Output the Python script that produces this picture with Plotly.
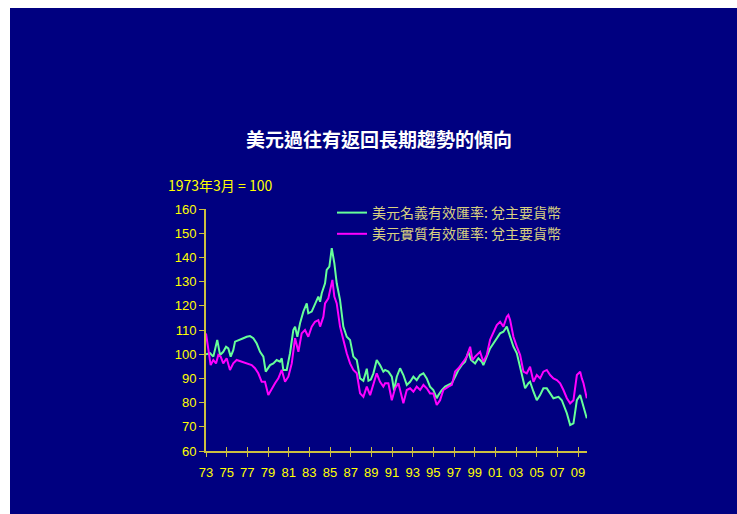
import plotly.graph_objects as go

# ---- data ----
nominal_years = [1973.00, 1973.39, 1973.71, 1973.87, 1974.09, 1974.36, 1974.67, 1974.94, 1975.16, 1975.39,
                 1975.64, 1975.81, 1976.29, 1976.61, 1976.94, 1977.26, 1977.58, 1977.91, 1978.23, 1978.55,
                 1978.78, 1979.20, 1979.52, 1979.84, 1980.16, 1980.33, 1980.48, 1980.81, 1981.13, 1981.45,
                 1981.62, 1981.84, 1982.10, 1982.42, 1982.75, 1982.90, 1983.23, 1983.55, 1983.87, 1984.04,
                 1984.20, 1984.52, 1984.68, 1984.94, 1985.17, 1985.42, 1985.65, 1985.97, 1986.29, 1986.62,
                 1986.94, 1987.26, 1987.59, 1987.91, 1988.23, 1988.56, 1988.72, 1988.95, 1989.20, 1989.52,
                 1989.84, 1990.16, 1990.33, 1990.65, 1990.98, 1991.20, 1991.46, 1991.78, 1992.10, 1992.43,
                 1992.75, 1993.07, 1993.39, 1993.72, 1994.04, 1994.36, 1994.68, 1995.00, 1995.33, 1995.49,
                 1995.82, 1996.14, 1996.46, 1996.79, 1997.11, 1997.43, 1997.75, 1998.07, 1998.39, 1998.65,
                 1999.04, 1999.36, 1999.69, 1999.84, 2000.17, 2000.49, 2000.81, 2001.14, 2001.46, 2001.78,
                 2002.11, 2002.43, 2002.75, 2003.08, 2003.40, 2003.72, 2003.88, 2004.20, 2004.36, 2004.69,
                 2005.01, 2005.33, 2005.65, 2005.98, 2006.30, 2006.62, 2007.11, 2007.43, 2007.92, 2008.24,
                 2008.56, 2008.89, 2009.21, 2009.53, 2009.85]
nominal_values = [100.0, 100.4, 99.0, 101.7, 105.9, 99.7, 101.0, 103.1, 102.4, 99.0,
                  101.7, 105.2, 106.2, 106.6, 107.2, 107.5, 106.6, 104.4, 101.0, 99.0,
                  92.8, 95.5, 96.2, 97.6, 96.9, 98.3, 93.5, 93.5, 100.4, 110.0,
                  111.4, 107.2, 112.8, 117.6, 121.0, 116.9, 117.6, 121.0, 123.8, 121.7,
                  125.2, 129.3, 134.8, 136.2, 143.8, 137.6, 129.3, 122.4, 111.4, 107.2,
                  105.9, 99.0, 97.6, 90.0, 89.0, 94.0, 89.0, 89.5, 92.1, 97.6,
                  95.5, 92.8, 93.5, 92.8, 90.7, 85.0, 90.7, 94.2, 91.4, 87.3,
                  88.6, 90.7, 89.3, 91.4, 92.1, 90.0, 86.6, 85.2, 81.8, 83.1,
                  85.2, 86.6, 87.3, 88.0, 90.7, 93.5, 95.5, 96.9, 101.0, 97.6,
                  96.2, 98.3, 96.9, 95.5, 99.0, 102.4, 104.4, 106.6, 108.6, 109.3,
                  111.4, 107.2, 103.1, 100.4, 94.8, 88.0, 85.9, 88.0, 88.6, 84.5,
                  81.0, 83.1, 85.9, 85.9, 83.8, 81.8, 82.4, 81.0, 75.6, 70.7,
                  71.4, 81.0, 83.1, 78.3, 73.5]

real_years = [1973.00, 1973.23, 1973.45, 1973.71, 1973.97, 1974.19, 1974.42, 1974.67, 1975.00, 1975.32,
              1975.64, 1975.97, 1976.46, 1976.94, 1977.42, 1977.74, 1978.06, 1978.39, 1978.71, 1979.03,
              1979.36, 1979.68, 1980.00, 1980.33, 1980.65, 1980.97, 1981.30, 1981.62, 1981.94, 1982.26,
              1982.58, 1982.90, 1983.23, 1983.55, 1983.87, 1984.04, 1984.36, 1984.52, 1984.84, 1985.00,
              1985.23, 1985.42, 1985.65, 1985.97, 1986.29, 1986.62, 1986.94, 1987.26, 1987.59, 1987.91,
              1988.23, 1988.56, 1988.88, 1989.20, 1989.52, 1989.84, 1990.16, 1990.33, 1990.65, 1990.98,
              1991.30, 1991.62, 1991.94, 1992.10, 1992.43, 1992.75, 1993.07, 1993.39, 1993.72, 1994.04,
              1994.36, 1994.68, 1995.00, 1995.33, 1995.65, 1995.97, 1996.46, 1996.79, 1997.11, 1997.43,
              1997.91, 1998.24, 1998.56, 1998.78, 1999.04, 1999.52, 1999.84, 2000.17, 2000.49, 2000.81,
              2001.14, 2001.46, 2001.78, 2002.11, 2002.26, 2002.43, 2002.75, 2003.08, 2003.40, 2003.72,
              2004.04, 2004.36, 2004.69, 2005.01, 2005.33, 2005.65, 2005.98, 2006.30, 2006.62, 2006.95,
              2007.27, 2007.59, 2007.92, 2008.24, 2008.56, 2008.89, 2009.21, 2009.37, 2009.53, 2009.85]
real_values = [108.6, 101.7, 95.5, 97.6, 96.2, 99.7, 99.0, 96.2, 98.3, 93.5,
               96.2, 97.6, 96.9, 96.2, 95.5, 94.2, 92.1, 88.6, 88.6, 83.1,
               85.9, 88.0, 90.0, 93.5, 88.6, 90.7, 96.2, 106.6, 101.0, 108.6,
               110.0, 107.2, 111.4, 113.4, 114.1, 111.4, 115.5, 121.0, 123.1, 126.5,
               130.7, 123.8, 121.0, 111.4, 105.9, 100.4, 96.2, 93.5, 92.1, 83.8,
               82.4, 86.6, 83.1, 88.0, 92.1, 88.6, 86.6, 88.0, 88.0, 81.0,
               85.9, 88.0, 82.4, 79.7, 85.2, 85.9, 84.5, 86.6, 85.2, 87.3,
               85.9, 83.8, 83.8, 79.0, 81.0, 85.2, 86.6, 87.3, 92.8, 94.2,
               96.9, 99.0, 103.1, 97.6, 99.0, 101.0, 96.9, 99.7, 105.9, 108.6,
               112.0, 113.4, 111.4, 115.5, 116.2, 114.1, 107.2, 103.1, 99.7, 92.8,
               92.1, 94.8, 88.6, 91.4, 90.0, 92.8, 93.5, 91.4, 90.0, 89.3,
               88.0, 85.2, 81.8, 79.7, 81.0, 91.4, 92.8, 90.0, 88.0, 81.8]

tick_years = list(range(1973, 2010, 2))
tick_labels = ["73", "75", "77", "79", "81", "83", "85", "87", "89", "91",
               "93", "95", "97", "99", "01", "03", "05", "07", "09"]

series_names = ["美元名義有效匯率: 兌主要貨幣", "美元實質有效匯率: 兌主要貨幣"]
title_text = "美元過往有返回長期趨勢的傾向"
base_note = "1973年3月 = 100"

# ---- styling ----
NAVY = "#000080"
YELLOW = "#FFFF00"
AXIS = "#CCC040"
CJK = "Noto Sans CJK TC, Liberation Sans, sans-serif"
LAT = "Liberation Sans, Arial, sans-serif"

W, H = 737, 514
PL, PR, PT, PB = 206, 587, 209, 451      # plot area in page pixels
PW, PH = PR - PL, PB - PT


def px_x(page_x):
    return (page_x - PL) / PW


def px_y(page_y):
    return (PB - page_y) / PH


fig = go.Figure()
fig.add_trace(go.Scatter(x=nominal_years, y=nominal_values, mode="lines",
                         name=series_names[0], line=dict(color="#66FF99", width=2)))
fig.add_trace(go.Scatter(x=real_years, y=real_values, mode="lines",
                         name=series_names[1], line=dict(color="#FF00FF", width=2)))

xr = [1973, 2009.87]
fig.update_layout(
    width=W, height=H,
    margin=dict(l=PL, r=W - PR, t=PT, b=H - PB, pad=0),
    paper_bgcolor=NAVY,
    plot_bgcolor=NAVY,
    showlegend=True,
    title=dict(text="<b>" + title_text + "</b>", x=379 / W, y=1 - 140 / H,
               xanchor="center", yanchor="middle", xref="container", yref="container",
               font=dict(family=CJK, size=19, color="white")),
    legend=dict(x=px_x(332), y=px_y(197), xanchor="left", yanchor="top",
                bgcolor="rgba(0,0,0,0)", font=dict(family=CJK, size=14, color="#D8D080"),
                tracegroupgap=0),
    xaxis=dict(range=xr, showgrid=False, zeroline=False, showline=True, linecolor=AXIS, linewidth=2,
               tickmode="array", tickvals=tick_years, ticktext=tick_labels,
               ticks="outside", ticklen=4, tickwidth=1, tickcolor=AXIS,
               tickfont=dict(family=LAT, size=13, color=YELLOW), ticklabelstandoff=4),
    xaxis2=dict(range=xr, overlaying="x", anchor="y", side="bottom", showgrid=False, zeroline=False,
                showline=False, tickmode="array", tickvals=tick_years, ticks="inside", ticklen=4,
                tickwidth=1, tickcolor=AXIS, showticklabels=False),
    yaxis=dict(range=[60, 160], dtick=10, showgrid=False, zeroline=False, showline=True,
               linecolor=AXIS, linewidth=2, ticks="outside", ticklen=5, tickwidth=1, tickcolor=AXIS,
               tickfont=dict(family=LAT, size=13, color=YELLOW)),
    # white frame strips on the left and top edges, as in the reference
    shapes=[dict(type="rect", xref="paper", yref="paper", layer="below",
                 x0=px_x(-5), x1=px_x(10), y0=px_y(520), y1=px_y(-5),
                 fillcolor="white", line=dict(width=0)),
            dict(type="rect", xref="paper", yref="paper", layer="below",
                 x0=px_x(-5), x1=px_x(745), y0=px_y(8), y1=px_y(-5),
                 fillcolor="white", line=dict(width=0))],
    annotations=[dict(text=base_note, xref="paper", yref="paper", x=px_x(166),
                      y=px_y(185), xanchor="left", yanchor="middle", showarrow=False,
                      font=dict(family=CJK, size=14, color=YELLOW))],
)
# invisible helper trace so the overlaid axis (crossing tick marks) is drawn
fig.add_trace(go.Scatter(x=[xr[0]], y=[60], xaxis="x2", mode="markers",
                         marker=dict(opacity=0), showlegend=False, hoverinfo="skip"))

fig.write_html("out.html",
               config={"displayModeBar": False},
               post_script="document.body.style.margin='0';"
                           "document.body.style.background='" + NAVY + "';"
                           "document.documentElement.style.background='" + NAVY + "';"
                           "document.documentElement.style.overflow='hidden';")
